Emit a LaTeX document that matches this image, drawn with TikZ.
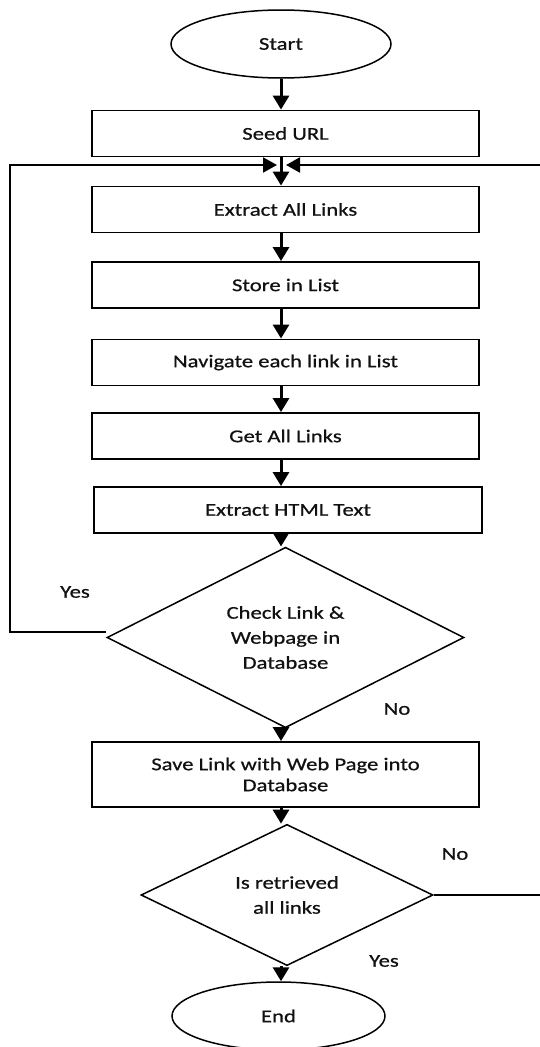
\documentclass[tikz,border=0pt]{standalone}
\usepackage{fontspec}
\setmainfont[FakeStretch=1.26,FakeBold=0.7]{Carlito}
\usetikzlibrary{shapes.geometric,arrows.meta}
\definecolor{txt}{HTML}{111111}
\newcommand\fsz{\fontsize{18}{21}\selectfont}
\begin{document}
\begin{tikzpicture}[x=1pt,y=-1pt,
  box/.style={draw, line width=1.9pt, minimum width=387pt, minimum height=46pt, inner sep=0pt, font=\fsz, align=center, text=txt},
  term/.style={ellipse, draw, line width=1.5pt, inner sep=0pt, font=\fsz, text=txt},
  dec/.style={diamond, draw, line width=1.5pt, inner sep=0pt, font=\fsz, align=center, text=txt},
  lbl/.style={inner sep=0pt, font=\fsz, text=txt},
  arr/.style={line width=3pt, -{Triangle[length=14pt,width=16pt]}},
  looparr/.style={line width=2pt, line join=miter, -{Triangle[length=14pt,width=15pt]}}
]
\useasboundingbox (0,0) rectangle (539,1047);
% nodes
\node[term, minimum width=220pt, minimum height=68pt] (start) at (281,44) {Start};
\node[box] (seed) at (285.5,133.5) {Seed URL};
\node[box] (ext) at (285.5,209.5) {Extract All Links};
\node[box] (store) at (285.5,285) {Store in List};
\node[box] (nav) at (285.5,362.5) {Navigate each link in List};
\node[box] (get) at (285.5,436) {Get All Links};
\node[box, minimum width=388pt] (html) at (288,510) {Extract HTML Text};
\node[dec, minimum width=357pt, minimum height=151pt] (chk) at (285.5,637.5) {Check Link \&\\[4pt]Webpage in\\[4pt]Database};
\node[box, minimum height=65pt] (save) at (285.5,774.5) {Save Link with Web Page into\\Database};
\node[dec, minimum width=292pt, minimum height=118pt] (ret) at (287,895) {Is retrieved\\[4pt]all links};
\node[term, minimum width=213pt, minimum height=68pt] (end) at (278.5,1016) {End};
% labels
\node[lbl] (yes1) at (75,592) {Yes};
\node[lbl] (no1) at (397,709) {No};
\node[lbl] (no2) at (455,854) {No};
\node[lbl] (yes2) at (384,961) {Yes};
% helper coordinates
\coordinate (ax) at (281,0);
\coordinate (jn) at (281,165);
\coordinate (ltop) at (10,165);
\coordinate (rbot) at (545,895);
\coordinate (lA) at ([yshift=5.5pt]chk.west);
% connectors
\draw[arr] (start.south) -- (start.south |- seed.north);
\draw[arr] (seed.south -| ax) -- (ext.north -| ax);
\draw[arr] (ext.south -| ax) -- (store.north -| ax);
\draw[arr] (store.south -| ax) -- (nav.north -| ax);
\draw[arr] (nav.south -| ax) -- (get.north -| ax);
\draw[arr] (get.south -| ax) -- (html.north -| ax);
\draw[arr] (html.south -| ax) -- (chk.north -| ax);
\draw[arr] (chk.south -| ax) -- (save.north -| ax);
\draw[arr] (save.south -| ax) -- (ret.north -| ax);
\draw[arr] (ret.south -| ax) -- (end.north -| ax);
% loops
\draw[looparr] (lA) -| (ltop) -- ([xshift=-4pt]jn);
\draw[looparr] (ret.east) -- (rbot) |- ([xshift=5pt]jn);
\end{tikzpicture}
\end{document}
